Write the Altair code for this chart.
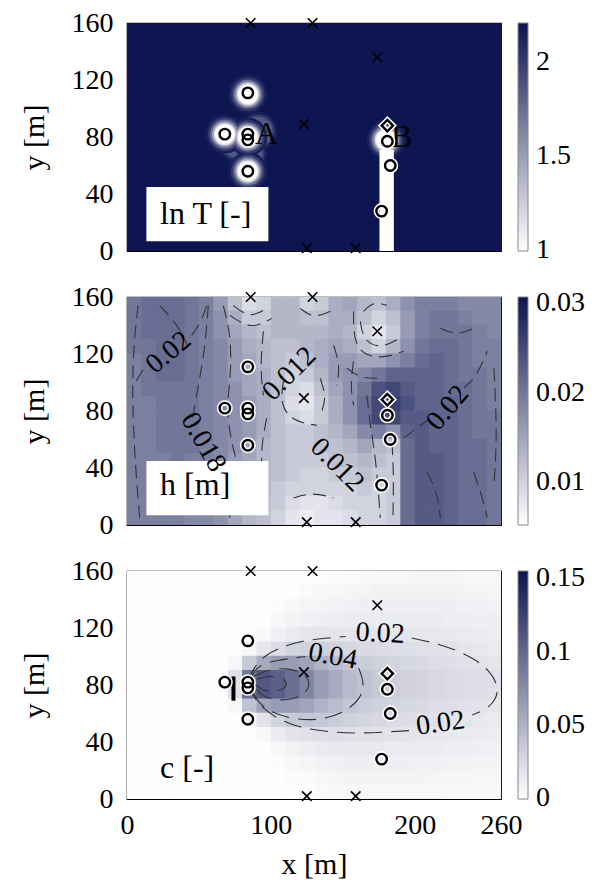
import altair as alt
import pandas as pd

SERIF = "Liberation Serif"
NAVY = "#0c1450"
X_DOMAIN = [0, 260]
Y_DOMAIN = [0, 160]
PANEL_W, PANEL_H = 374, 228

# ---------------------------------------------------------------- grid layout
CELL = 10
CELL_LEFT = list(range(0, 260, 10))          # 26 columns
CELL_BOTTOM = list(range(150, -10, -10))     # 16 rows, top row first
SEAM = 0.5                                   # small overlap so neighbouring cells leave no hairlines

# ---------------------------------------------------------------- colour bar ranges
LNT_RANGE = [0.995, 2.21]
H_RANGE = [0.0052, 0.0307]
C_RANGE = [-0.0006, 0.155]

# ---------------------------------------------------------------- ln T field
LNT_BACKGROUND = 2.2
GLOW_X = [84, 68, 84, 84, 180]
GLOW_Y = [110, 82, 80, 56, 78]
RING_LNT = [2.15, 2.0, 1.75, 1.45, 1.15, 1.0]
HALO_X = [76, 84, 91]
HALO_Y = [76, 68, 84]
HALO_LNT = [2.15, 2.0, 1.85]
STRIP_LNT = 1.0

# ---------------------------------------------------------------- h field [mm]
H_MM = [
    [20, 21, 21, 21, 20, 19, 16, 12, 9, 10, 13, 13, 10, 11, 14, 15, 13, 12, 14, 17, 19, 19, 19, 18, 18, 18],
    [20, 21, 21, 21, 20, 19, 17, 14, 11, 11, 13, 13, 12, 12, 14, 14, 12, 10, 12, 16, 19, 20, 20, 19, 18, 18],
    [20, 21, 21, 21, 20, 19, 17, 15, 13, 12, 13, 13, 13, 13, 14, 13, 10, 8, 11, 16, 19, 20, 20, 20, 19, 18],
    [20, 20, 21, 21, 20, 19, 18, 16, 14, 13, 12, 12, 13, 14, 15, 14, 12, 10, 13, 17, 20, 21, 21, 20, 19, 19],
    [19, 20, 21, 21, 20, 19, 18, 16, 15, 13, 12, 11, 12, 14, 16, 16, 15, 15, 17, 19, 21, 22, 21, 20, 19, 19],
    [19, 20, 21, 21, 20, 19, 18, 16, 15, 14, 12, 10, 11, 13, 16, 17, 18, 20, 22, 22, 22, 22, 21, 20, 20, 19],
    [19, 20, 20, 20, 20, 19, 18, 17, 15, 14, 12, 10, 9, 12, 15, 17, 20, 24, 25, 23, 22, 22, 21, 21, 20, 19],
    [19, 19, 20, 20, 20, 19, 18, 17, 16, 14, 12, 9, 8, 11, 14, 17, 21, 25, 26, 24, 22, 22, 22, 21, 20, 19],
    [19, 19, 20, 20, 20, 19, 18, 17, 16, 14, 12, 10, 9, 11, 14, 17, 21, 25, 25, 23, 23, 22, 22, 21, 20, 20],
    [19, 19, 20, 20, 20, 19, 18, 17, 16, 14, 12, 11, 11, 12, 13, 15, 18, 19, 17, 22, 23, 22, 22, 21, 20, 20],
    [19, 19, 20, 20, 20, 19, 18, 17, 15, 13, 12, 11, 11, 12, 12, 13, 15, 13, 12, 21, 23, 22, 22, 21, 21, 20],
    [19, 19, 19, 20, 19, 19, 18, 16, 15, 13, 12, 11, 11, 11, 12, 12, 13, 12, 11, 21, 23, 23, 22, 21, 21, 20],
    [19, 19, 19, 19, 19, 18, 17, 16, 14, 13, 12, 11, 10, 10, 11, 11, 12, 11, 11, 21, 23, 23, 22, 21, 21, 20],
    [19, 19, 19, 19, 19, 18, 17, 15, 14, 13, 11, 10, 10, 10, 10, 10, 11, 10, 11, 21, 23, 23, 22, 21, 21, 20],
    [19, 19, 19, 19, 18, 18, 17, 15, 14, 12, 11, 9, 8, 8, 9, 10, 10, 10, 11, 21, 23, 23, 22, 21, 21, 20],
    [19, 19, 19, 19, 18, 18, 17, 15, 13, 12, 10, 8, 7, 8, 8, 9, 10, 10, 11, 21, 23, 23, 22, 21, 21, 20],
]

# ---------------------------------------------------------------- c field [%]
C_PCT = [
    [0, 0, 0, 0, 0, 0, 0, 0, 0, 0, 0, 0, 0, 0, 0.2, 0.3, 0.4, 0.5, 0.5, 0.5, 0.6, 0.6, 0.6, 0.5, 0.5, 0.5],
    [0, 0, 0, 0, 0, 0, 0, 0, 0, 0, 0, 0.1, 0.3, 0.4, 0.5, 0.6, 0.7, 0.8, 0.8, 0.8, 0.8, 0.8, 0.8, 0.7, 0.7, 0.6],
    [0, 0, 0, 0, 0, 0, 0, 0, 0, 0, 0.2, 0.4, 0.6, 0.7, 0.8, 0.9, 1.0, 1.0, 1.0, 1.0, 1.0, 1.0, 1.0, 0.9, 0.9, 0.8],
    [0, 0, 0, 0, 0, 0, 0, 0, 0, 0.1, 0.4, 0.7, 0.9, 1.0, 1.1, 1.2, 1.2, 1.2, 1.2, 1.2, 1.2, 1.2, 1.1, 1.1, 1.0, 1.0],
    [0, 0, 0, 0, 0, 0, 0, 0, 0, 0.4, 0.9, 1.3, 1.6, 1.7, 1.7, 1.7, 1.7, 1.6, 1.6, 1.6, 1.5, 1.5, 1.4, 1.3, 1.2, 1.1],
    [0, 0, 0, 0, 0, 0, 0, 0, 0.5, 1.5, 2.2, 2.8, 3.0, 3.0, 2.8, 2.6, 2.4, 2.3, 2.2, 2.1, 2.0, 1.9, 1.8, 1.6, 1.5, 1.3],
    [0, 0, 0, 0, 0, 0, 0, 0.5, 3.5, 5.5, 6.5, 6.5, 6.0, 5.0, 4.3, 3.8, 3.3, 3.0, 2.8, 2.6, 2.4, 2.2, 2.1, 1.9, 1.8, 1.6],
    [0, 0, 0, 0, 0, 0, 0, 2, 9, 11, 10.5, 9.5, 8, 6.5, 5.5, 4.5, 4.0, 3.5, 3.2, 2.9, 2.7, 2.5, 2.3, 2.2, 2.1, 2.0],
    [0, 0, 0, 0, 0, 0, 0, 2, 9.5, 11, 10.5, 9.5, 8, 6.5, 5.5, 4.5, 4.0, 3.5, 3.2, 2.9, 2.7, 2.5, 2.3, 2.2, 2.1, 2.0],
    [0, 0, 0, 0, 0, 0, 0, 0.5, 4, 6, 6.5, 6.5, 6, 5, 4.3, 3.8, 3.3, 3.0, 2.8, 2.6, 2.4, 2.2, 2.1, 1.9, 1.8, 1.6],
    [0, 0, 0, 0, 0, 0, 0, 0, 0.5, 1.8, 2.8, 3.5, 3.7, 3.6, 3.3, 3.0, 2.7, 2.5, 2.3, 2.2, 2.0, 1.9, 1.8, 1.6, 1.5, 1.3],
    [0, 0, 0, 0, 0, 0, 0, 0, 0, 0.5, 1.2, 1.7, 2.0, 2.1, 2.1, 2.0, 2.0, 1.9, 1.8, 1.7, 1.6, 1.5, 1.4, 1.3, 1.2, 1.1],
    [0, 0, 0, 0, 0, 0, 0, 0, 0, 0.1, 0.5, 0.8, 1.1, 1.3, 1.4, 1.4, 1.4, 1.4, 1.3, 1.3, 1.2, 1.2, 1.1, 1.0, 1.0, 0.9],
    [0, 0, 0, 0, 0, 0, 0, 0, 0, 0, 0.2, 0.4, 0.6, 0.8, 0.9, 1.0, 1.0, 1.0, 1.0, 1.0, 0.9, 0.9, 0.8, 0.8, 0.7, 0.7],
    [0, 0, 0, 0, 0, 0, 0, 0, 0, 0, 0, 0.2, 0.3, 0.5, 0.6, 0.7, 0.7, 0.7, 0.7, 0.7, 0.7, 0.6, 0.6, 0.6, 0.5, 0.5],
    [0, 0, 0, 0, 0, 0, 0, 0, 0, 0, 0, 0, 0.1, 0.3, 0.4, 0.5, 0.5, 0.5, 0.5, 0.5, 0.5, 0.5, 0.4, 0.4, 0.4, 0.4],
]

# ---------------------------------------------------------------- observation points
CROSS_X = [86, 129, 174, 123, 125, 159]
CROSS_Y = [160, 160, 136, 89, 2, 2]
WELL_X = [84, 68, 84, 84, 84, 181, 183, 177]
WELL_Y = [111, 82, 82, 78, 56, 77, 60, 28]
DIAMOND_X = [181]
DIAMOND_Y = [88]
SOURCE_X = [74, 74]
SOURCE_Y = [69, 86]

# ---------------------------------------------------------------- contour traces
H_CONTOURS = [
    [(7.7, 154), (4.2, 122), (3.7, 87), (5.4, 47), (8.8, 5)],
    [(22.8, 154), (35.6, 140), (42.5, 125)],
    [(6.5, 101), (12.3, 111)],
    [(44.9, 133), (51.8, 143), (56.5, 157)],
    [(56.5, 154), (54.1, 122), (48.3, 91), (44.9, 70)],
    [(64.6, 35), (69.2, 19), (71.6, 5)],
    [(66.9, 154), (71.6, 136), (72.7, 110), (69.2, 84), (71.6, 61), (78.5, 37), (83.2, 7)],
    [(73.9, 154), (85.5, 145), (97.1, 152)],
    [(71.6, 147), (86.7, 137), (100.6, 145)],
    [(94.8, 136), (92.5, 110), (94.8, 91)],
    [(97.1, 75), (92.5, 51), (94.8, 28), (92.5, 5)],
    [(108.7, 101), (106.4, 84), (115.7, 72.5), (132, 70)],
    [(134.3, 103), (138.9, 89), (134.3, 77)],
    [(120.3, 152), (129.6, 145), (141.3, 150)],
    [(143.6, 126), (148.2, 112), (145.9, 98)],
    [(157.5, 115), (155.2, 98), (157.5, 84)],
    [(162.2, 143), (164.5, 129), (176.1, 124), (187.7, 130)],
    [(157.5, 150), (157.5, 122), (176.1, 116), (192.4, 122)],
    [(164.5, 150), (171.5, 157), (180.8, 154)],
    [(152.9, 110), (162.2, 103), (173.8, 103)],
    [(166.8, 91), (169.1, 70), (171.4, 56), (173.8, 37), (176.1, 5)],
    [(184.2, 58), (185.4, 37), (184.9, 5)],
    [(192.4, 61), (204, 70), (211, 75)],
    [(234.2, 96), (243.5, 105), (250.4, 122)],
    [(217.9, 138), (229.5, 133), (241.1, 138)],
    [(208.6, 37), (215.6, 23), (217.9, 5)],
    [(241.1, 37), (248.1, 16), (250.4, 5)],
    [(115.7, 19), (129.6, 23), (143.6, 19)],
    [(255.1, 110), (257.4, 63), (255.1, 28)],
]
H_LABELS = ["0.02", "0.012", "0.018", "0.012", "0.02"]
H_LABEL_X = [29, 113, 53, 146, 223]
H_LABEL_Y = [121, 106, 58, 42, 82]
H_LABEL_ANGLE = [320, 315, 60, 45, 310]

C_CONTOURS = [
    [(84, 83), (88, 92), (96, 101), (108, 107), (122, 111), (138, 113), (152, 114)],
    [(198, 113), (212, 110), (228, 105), (242, 98), (252, 90), (258, 80), (257, 70), (250, 63), (240, 59)],
    [(196, 48), (180, 47), (160, 46), (140, 47), (120, 50), (105, 56), (94, 64), (87, 73), (84, 83)],
    [(86, 84), (88, 90), (95, 95), (103, 97), (116, 99), (124, 100)],
    [(161, 92), (165, 82), (163, 71), (152, 61), (134, 55), (115, 56), (99, 61), (90, 69), (86, 78)],
    [(88, 86), (98, 91), (112, 92), (124, 88), (128, 80), (122, 72), (110, 69), (98, 70), (90, 76), (88, 82)],
    [(90, 84), (100, 87), (110, 84), (112, 79), (104, 75), (94, 76), (90, 80)],
]
C_LABELS = ["0.02", "0.04", "0.02"]
C_LABEL_X = [176, 143, 218]
C_LABEL_Y = [116, 100, 53]
C_LABEL_ANGLE = [3, 10, 352]

PANEL_NAMES = ["ln T [-]", "h [m]", "c [-]"]

# glow ring areas in square pixels, outermost first
RING_SIZES = [1520, 1130, 850, 640, 480, 380]


# ---------------------------------------------------------------- helpers
def grid_frame(rows, factor, name):
    recs = []
    for row, yb in zip(rows, CELL_BOTTOM):
        for v, xl in zip(row, CELL_LEFT):
            recs.append({"x0": xl, "x1": min(xl + CELL + SEAM, 260),
                         "y0": yb, "y1": min(yb + CELL + SEAM, 160), name: v * factor})
    return pd.DataFrame(recs)


def line_frame(traces):
    recs = []
    for k, tr in enumerate(traces):
        for i, (x, y) in enumerate(tr):
            recs.append({"id": k, "i": i, "x": x, "y": y})
    return pd.DataFrame(recs)


def xenc(field, bottom):
    axis = alt.Axis(values=[0, 100, 200, 260], title="x [m]", labelFlush=False,
                    labelPadding=12, titlePadding=10) if bottom else None
    return alt.X(f"{field}:Q", scale=alt.Scale(domain=X_DOMAIN, nice=False, zero=False), axis=axis)


def yenc(field):
    return alt.Y(f"{field}:Q", scale=alt.Scale(domain=Y_DOMAIN, nice=False, zero=False),
                 axis=alt.Axis(values=[0, 40, 80, 120, 160], title="y [m]",
                               labelPadding=14, titlePadding=22))


def color_scale(domain):
    return alt.Scale(domain=domain, range=["#ffffff", NAVY], interpolate="rgb", clamp=True)


def legend(values):
    return alt.Legend(title=None, values=values, format="~g", gradientLength=PANEL_H,
                      gradientThickness=10, offset=17, labelOffset=8, labelBaseline="middle",
                      labelOverlap=False, labelFont=SERIF, labelFontSize=28, type="gradient",
                      direction="vertical",
                      gradientStrokeColor="#888", gradientStrokeWidth=1)


def name_box(bottom):
    box = pd.DataFrame({"x0": [13.5], "x1": [98.3], "y0": [6.8], "y1": [44.9]})
    return alt.Chart(box).mark_rect(color="white").encode(
        x=xenc("x0", bottom), x2="x1", y=yenc("y0"), y2="y1")


def markers(bottom, name, name_y):
    layers = []
    lab = pd.DataFrame({"x": [23], "y": [name_y], "t": [name]})
    layers.append(alt.Chart(lab).mark_text(font=SERIF, fontSize=32, align="left",
                                           baseline="middle", color="black").encode(
        x=xenc("x", bottom), y=yenc("y"), text="t:N"))
    crosses = pd.DataFrame({"x": CROSS_X, "y": CROSS_Y})
    layers.append(alt.Chart(crosses).mark_point(
        shape="M-1,-1L1,1M-1,1L1,-1", size=90, filled=False, stroke="black", strokeWidth=1.6,
        opacity=1).encode(x=xenc("x", bottom), y=yenc("y")))
    wells = pd.DataFrame({"x": WELL_X, "y": WELL_Y})
    dia = pd.DataFrame({"x": DIAMOND_X, "y": DIAMOND_Y})
    for stroke, sw in (("white", 5.5), ("black", 2.4)):
        layers.append(alt.Chart(wells).mark_point(
            shape="circle", size=110, filled=False, stroke=stroke, strokeWidth=sw, opacity=1
        ).encode(x=xenc("x", bottom), y=yenc("y")))
        layers.append(alt.Chart(dia).mark_point(
            shape="diamond", size=130, filled=False, stroke=stroke, strokeWidth=sw, opacity=1
        ).encode(x=xenc("x", bottom), y=yenc("y")))
    return layers


def contour_lines(traces, dash, bottom):
    return alt.Chart(line_frame(traces)).mark_line(
        color="#333333", strokeWidth=1.1, strokeDash=dash, interpolate="basis"
    ).encode(x=xenc("x", bottom), y=yenc("y"), detail="id:N", order="i:Q")


def contour_labels(labels, lx, ly, la, bottom):
    lab = pd.DataFrame({"x": lx, "y": ly, "t": labels, "a": la})
    return alt.Chart(lab).mark_text(font=SERIF, fontSize=28, color="black",
                                    align="center", baseline="middle").encode(
        x=xenc("x", bottom), y=yenc("y"), text="t:N", angle=alt.Angle("a:Q", scale=None))


def field_layer(df, field, scale, leg, bottom):
    return alt.Chart(df).mark_rect().encode(
        x=xenc("x0", bottom), x2="x1", y=yenc("y0"), y2="y1",
        color=alt.Color(f"{field}:Q", scale=scale, legend=leg))


def ring_layers(xs, ys, values, sizes, scale, leg):
    out = []
    for val, size in zip(values, sizes):
        ring = pd.DataFrame({"x": xs, "y": ys, "lnT": [val] * len(xs)})
        out.append(alt.Chart(ring).mark_circle(opacity=1, size=size).encode(
            x=xenc("x", False), y=yenc("y"),
            color=alt.Color("lnT:Q", scale=scale, legend=leg)))
    return out


# ---------------------------------------------------------------- panel 1: ln T
sc_t = color_scale(LNT_RANGE)
lg_t = legend([1, 1.5, 2])
bg = pd.DataFrame({"x0": [0], "x1": [260], "y0": [0], "y1": [160], "lnT": [LNT_BACKGROUND]})
strip = pd.DataFrame({"x0": [175.5], "x1": [185.5], "y0": [0], "y1": [71], "lnT": [STRIP_LNT]})

p1_layers = [
    alt.Chart(bg).mark_rect().encode(x=xenc("x0", False), x2="x1", y=yenc("y0"), y2="y1",
                                      color=alt.Color("lnT:Q", scale=sc_t, legend=lg_t)),
]
p1_layers += ring_layers(HALO_X, HALO_Y, HALO_LNT, RING_SIZES[:3], sc_t, lg_t)
p1_layers += ring_layers(GLOW_X, GLOW_Y, RING_LNT, RING_SIZES, sc_t, lg_t)
p1_layers.append(alt.Chart(strip).mark_rect().encode(
    x=xenc("x0", False), x2="x1", y=yenc("y0"), y2="y1",
    color=alt.Color("lnT:Q", scale=sc_t, legend=lg_t)))
p1_layers.append(alt.Chart(pd.DataFrame({"x": [97, 191], "y": [82, 80], "t": ["A", "B"]}))
                 .mark_text(font=SERIF, fontSize=32, color="black", baseline="middle")
                 .encode(x=xenc("x", False), y=yenc("y"), text="t:N"))
p1_layers.append(name_box(False))
p1_layers += markers(False, PANEL_NAMES[0], 26)
panel1 = alt.layer(*p1_layers).properties(width=PANEL_W, height=PANEL_H)

# ---------------------------------------------------------------- panel 2: h
sc_h = color_scale(H_RANGE)
lg_h = legend([0.01, 0.02, 0.03])
hdf = grid_frame(H_MM, 0.001, "h")
p2_layers = [
    field_layer(hdf, "h", sc_h, lg_h, False),
    contour_lines(H_CONTOURS, [13, 7], False),
    name_box(False),
    contour_labels(H_LABELS, H_LABEL_X, H_LABEL_Y, H_LABEL_ANGLE, False),
]
p2_layers += markers(False, PANEL_NAMES[1], 28)
panel2 = alt.layer(*p2_layers).properties(width=PANEL_W, height=PANEL_H)

# ---------------------------------------------------------------- panel 3: c
sc_c = color_scale(C_RANGE)
lg_c = legend([0, 0.05, 0.1, 0.15])
cdf = grid_frame(C_PCT, 0.01, "c")
p3_layers = [
    field_layer(cdf, "c", sc_c, lg_c, True),
    contour_lines(C_CONTOURS, [18, 9], True),
    contour_labels(C_LABELS, C_LABEL_X, C_LABEL_Y, C_LABEL_ANGLE, True),
    alt.Chart(pd.DataFrame({"x": SOURCE_X, "y": SOURCE_Y})).mark_line(
        color="black", strokeWidth=4).encode(x=xenc("x", True), y=yenc("y")),
]
p3_layers += markers(True, PANEL_NAMES[2], 22)
panel3 = alt.layer(*p3_layers).properties(width=PANEL_W, height=PANEL_H)

chart = (
    alt.vconcat(panel1, panel2, panel3, spacing=16)
    .resolve_scale(color="independent")
    .properties(padding={"left": 18, "top": 8, "right": 0, "bottom": 0}, background="white")
    .configure_view(stroke="black", strokeWidth=1.2)
    .configure_axis(labelFont=SERIF, labelFontSize=28, titleFont=SERIF, titleFontSize=30,
                    titleFontWeight="normal", labelColor="black", titleColor="black",
                    ticks=False, domain=False, grid=False)
)

chart.save("out.html", embed_options={"renderer": "svg", "actions": False})
